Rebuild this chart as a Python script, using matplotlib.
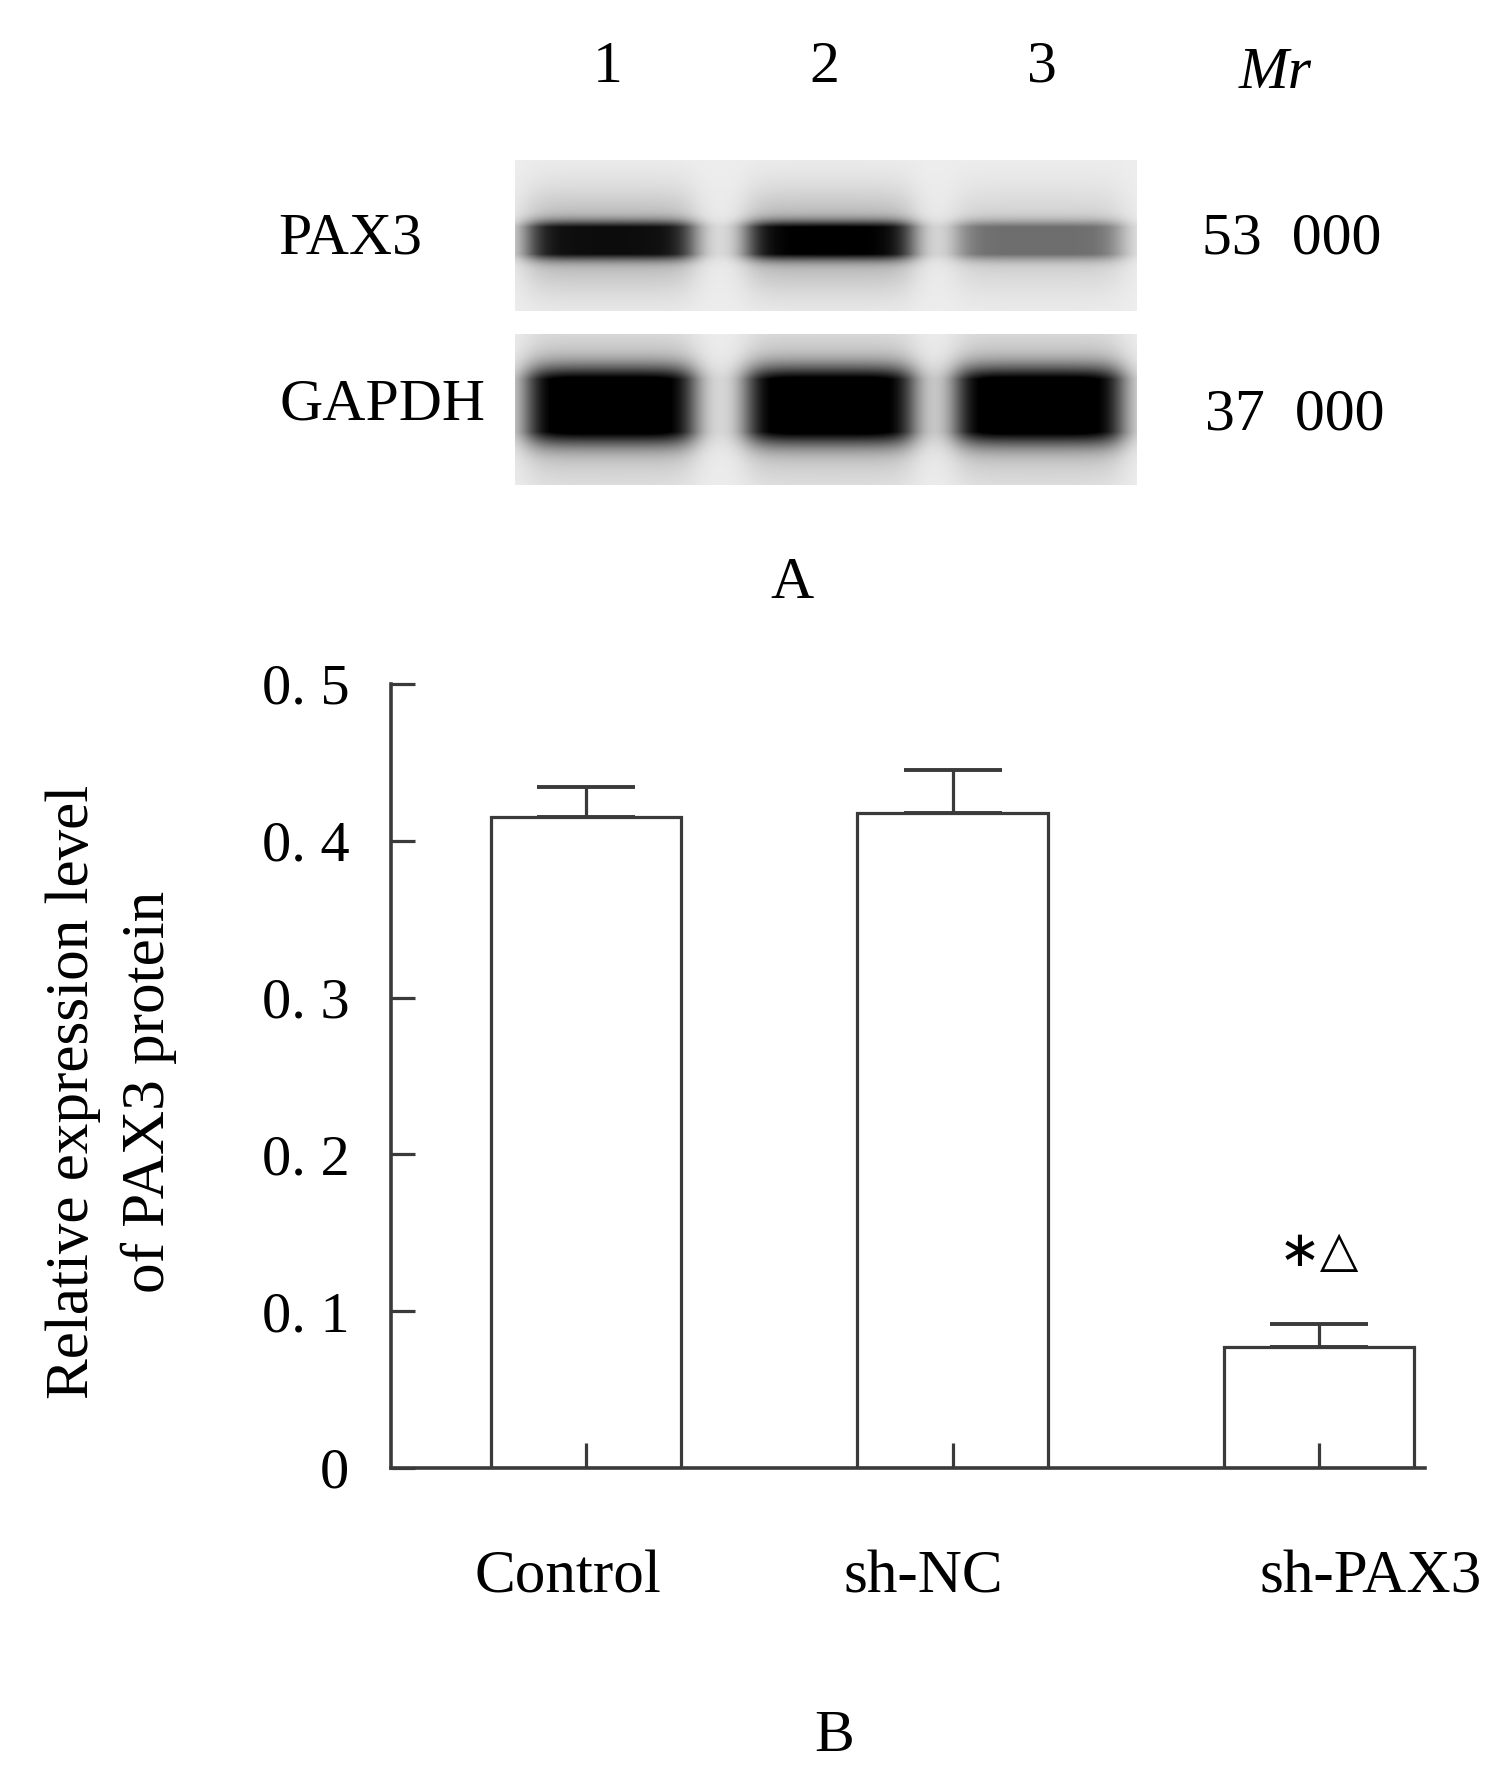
import numpy as np
import matplotlib.pyplot as plt

# bar chart data (panel B)
groups = ['Control', 'sh-NC', 'sh-PAX3']
values = [0.415, 0.418, 0.077]
errors = [0.019, 0.027, 0.015]
yticks = [0, 0.1, 0.2, 0.3, 0.4, 0.5]
ytick_labels = ['0', '0. 1', '0. 2', '0. 3', '0. 4', '0. 5']
sig_mark = '∗△'

# blot data (panel A)
lanes = ['1', '2', '3']
proteins = ['PAX3', 'GAPDH']
mr_labels = ['53  000', '37  000']
pax3_band = [0.88, 0.93, 0.5]
gapdh_band = [1.0, 1.0, 1.0]

W, H = 1504, 1788
plt.rcParams['font.family'] = ['Liberation Serif', 'DejaVu Sans']
fig = plt.figure(figsize=(W / 100, H / 100), dpi=100)


def fx(x):
    return x / W


def fy(y):
    return 1 - y / H


# ---- panel A: western blot ----
bw, bh = 622, 325
yy, xx = np.mgrid[0:bh, 0:bw]
img = np.full((bh, bw), 0.07)
img[151:174, :] = 0.0  # gap between the two membranes
lane_x = [(12, 178), (232, 397), (441, 606)]


def band(x0, x1, yc, hh, amp, soft):
    sx = 1 / (1 + np.exp(-(xx - x0) / 9)) * 1 / (1 + np.exp((xx - x1) / 9))
    core = np.exp(-np.abs((yy - yc) / hh) ** 3)
    halo = np.exp(-((yy - yc) / (hh * soft)) ** 2)
    return amp * sx * np.clip(1.1 * core + 0.3 * halo, 0, 1)


for (x0, x1), a in zip(lane_x, pax3_band):
    img += band(x0, x1, 80, 18, a, 2.6) * (yy < 151)
for (x0, x1), a in zip(lane_x, gapdh_band):
    img += band(x0, x1, 245, 36, a, 1.8) * (yy >= 174)
img = np.clip(img, 0, 1)

blot_ax = fig.add_axes([fx(515), fy(485), fx(1137 - 515), (485 - 160) / H])
blot_ax.imshow(img, cmap='gray_r', vmin=0, vmax=1, aspect='auto', interpolation='bilinear')
blot_ax.axis('off')

fs = 43
for lab, x in zip(lanes, [608, 824, 1042]):
    fig.text(fx(x), fy(68), lab, ha='center', va='center', fontsize=fs)
fig.text(fx(1275), fy(74), 'Mr', ha='center', va='center', fontsize=fs, style='italic')
for lab, x, y in zip(proteins, [350, 382], [240, 405]):
    fig.text(fx(x), fy(y), lab, ha='center', va='center', fontsize=fs)
for lab, x, y in zip(mr_labels, [1292, 1295], [240, 416]):
    fig.text(fx(x), fy(y), lab, ha='center', va='center', fontsize=fs)
fig.text(fx(792), fy(584), 'A', ha='center', va='center', fontsize=fs)

# ---- panel B: bar chart ----
lc = '#3a3a3a'
ax = fig.add_axes([fx(391), fy(1468), fx(1425 - 391), (1468 - 684) / H])
ax.set_axisbelow(False)
x = np.arange(len(groups))
ax.bar(x, values, width=0.52, color='white', edgecolor=lc, linewidth=2.3, zorder=2)
ax.errorbar(x, values, yerr=[np.zeros(len(errors)), errors], fmt='none',
            ecolor=lc, elinewidth=2.3, capsize=35, capthick=2.8, zorder=3)
ax.set_xlim(-0.532, 2.289)
ax.set_ylim(0, 0.5)
ax.set_yticks(yticks)
ax.set_yticklabels(ytick_labels, fontsize=42)
ax.set_xticks(x)
ax.set_xticklabels([])
ax.tick_params(axis='y', direction='in', length=17, width=2.3, color=lc, pad=30)
ax.tick_params(axis='x', direction='in', length=18, width=2.3, color=lc)
for s in ['top', 'right']:
    ax.spines[s].set_visible(False)
for s in ['left', 'bottom']:
    ax.spines[s].set_linewidth(2.6)
    ax.spines[s].set_color(lc)

label_dx = [-0.05, -0.08, 0.14]
for xi, lab, dx in zip(x, groups, label_dx):
    ax.text(xi + dx, -0.07, lab, ha='center', va='center', fontsize=44)
ax.text(x[2], values[2] + errors[2] + 0.046, sig_mark, ha='center', va='center',
        fontsize=36, family=['DejaVu Sans'])

fig.text(fx(111), fy(1092), 'Relative expression level\nof PAX3 protein', rotation=90,
         ha='center', va='center', fontsize=44, linespacing=1.45, multialignment='center')
fig.text(fx(834), fy(1737), 'B', ha='center', va='center', fontsize=43)

fig.savefig('out.png', dpi=100, facecolor='white')
